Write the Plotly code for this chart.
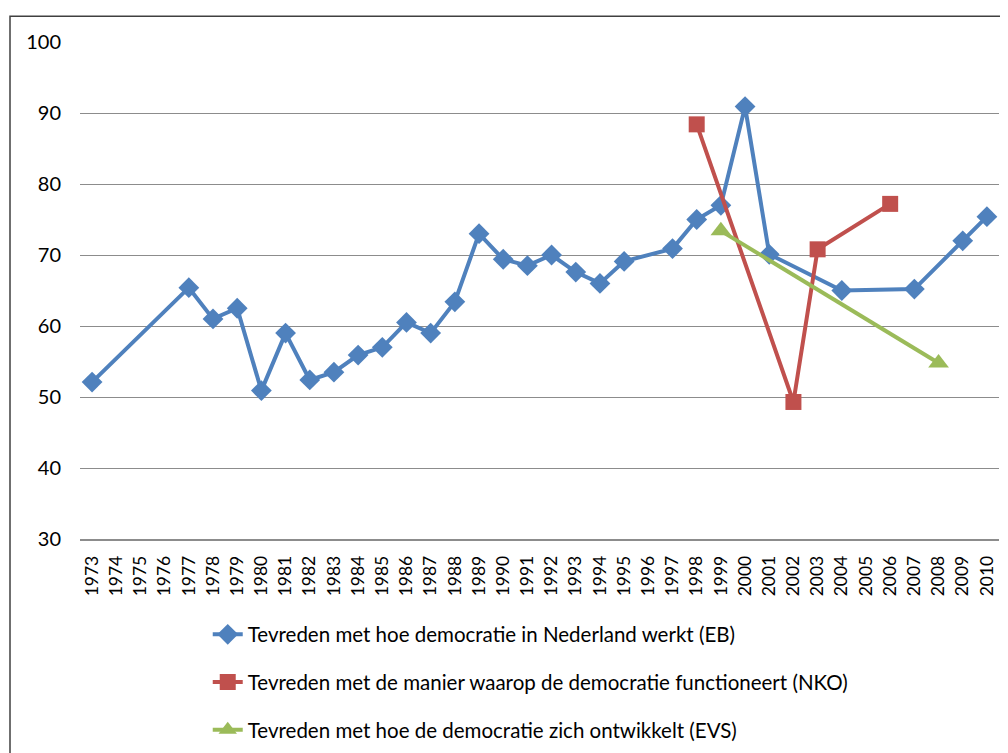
import plotly.graph_objects as go

years = [str(y) for y in range(1973, 2011)]

eb_years = ["1973", "1977", "1978", "1979", "1980", "1981", "1982", "1983", "1984",
            "1985", "1986", "1987", "1988", "1989", "1990", "1991", "1992", "1993",
            "1994", "1995", "1997", "1998", "1999", "2000", "2001", "2004", "2007",
            "2009", "2010"]
eb_values = [52.1, 65.4, 61.0, 62.5, 50.9, 59.0, 52.4, 53.5, 55.9,
             57.0, 60.5, 59.0, 63.4, 73.0, 69.4, 68.5, 70.0, 67.6,
             66.0, 69.1, 70.9, 75.0, 77.0, 90.9, 70.1, 65.0, 65.2,
             72.0, 75.4]

nko_years = ["1998", "2002", "2003", "2006"]
nko_values = [88.4, 49.3, 70.8, 77.2]

evs_years = ["1999", "2008"]
evs_values = [73.4, 54.8]

names = [
    "Tevreden met hoe democratie in Nederland werkt (EB)",
    "Tevreden met de manier waarop de democratie functioneert (NKO)",
    "Tevreden met hoe de democratie zich ontwikkelt (EVS)",
]
colors = ["#4F81BD", "#C0504D", "#9BBB59"]

fig = go.Figure()
fig.add_trace(go.Scatter(x=eb_years, y=eb_values, name=names[0], mode="lines+markers",
                         line=dict(color=colors[0], width=4),
                         marker=dict(symbol="diamond", size=16, color=colors[0]),
                         legendgroup="a"))
fig.add_trace(go.Scatter(x=nko_years, y=nko_values, name=names[1], mode="lines+markers",
                         line=dict(color=colors[1], width=4),
                         marker=dict(symbol="square", size=16, color=colors[1]),
                         legendgroup="b"))
fig.add_trace(go.Scatter(x=evs_years, y=evs_values, name=names[2], mode="lines+markers",
                         line=dict(color=colors[2], width=4),
                         marker=dict(symbol="triangle-up", size=18, color=colors[2]),
                         legendgroup="c"))

font_family = "Lato, 'Open Sans', sans-serif"

fig.update_layout(
    width=1008, height=753,
    margin=dict(l=72, r=17, t=34, b=216),
    paper_bgcolor="white", plot_bgcolor="white",
    font=dict(family=font_family, size=16, color="#000000"),
    showlegend=True,
    legend=dict(orientation="v", x=0.139, xanchor="left", y=-0.152, yanchor="top",
                traceorder="grouped", tracegroupgap=18,
                font=dict(family=font_family, size=20.5, color="#000000"),
                bgcolor="rgba(0,0,0,0)"),
    xaxis=dict(type="category", categoryorder="array", categoryarray=years,
               range=[-0.5, len(years) - 0.5], tickangle=-90,
               showgrid=False, showline=True, linecolor="#8C8C8C", linewidth=1.5,
               ticks="", tickfont=dict(size=17.5), zeroline=False, fixedrange=True,
               ticklabelstandoff=8),
    yaxis=dict(range=[30, 100], dtick=10, tick0=30, showgrid=True,
               gridcolor="#8C8C8C", gridwidth=1.2, showline=False, ticks="",
               tickfont=dict(size=20), zeroline=False, ticklen=0,
               ticklabelstandoff=18),
    shapes=[dict(type="rect", xref="paper", yref="paper",
                 x0=(10 - 80) / 919, x1=1.2, y0=-0.6, y1=(543 - 14) / 503,
                 line=dict(color="#404040", width=1.5), fillcolor="rgba(0,0,0,0)",
                 layer="below")],
)

fig.write_html("out.html")
